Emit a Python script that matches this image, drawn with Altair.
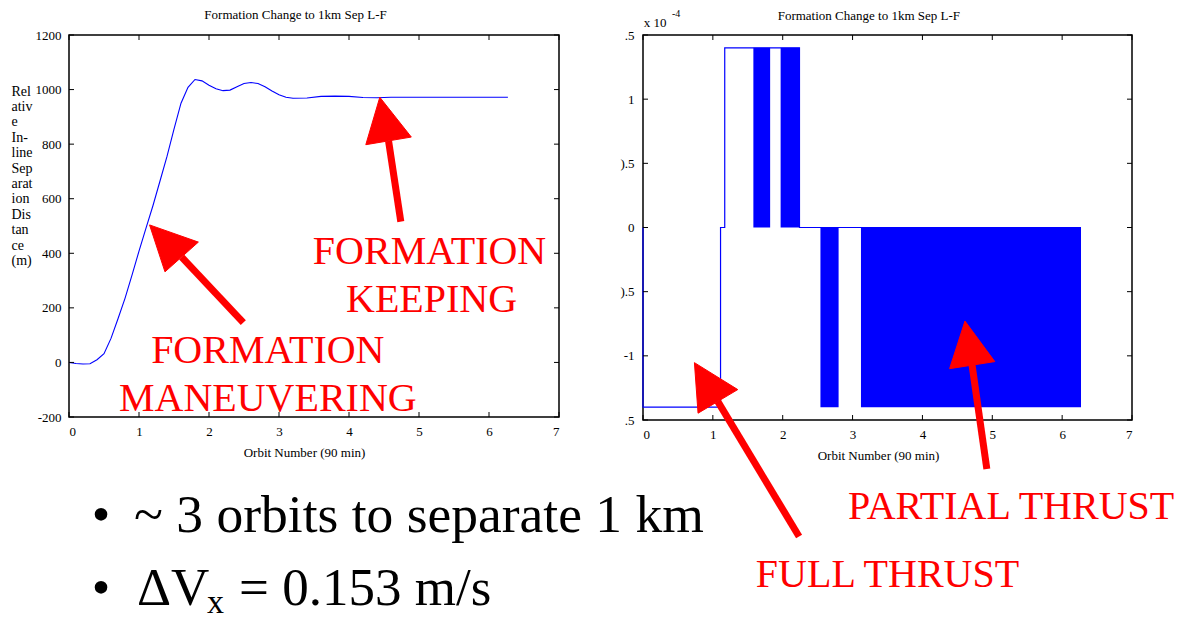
import altair as alt
import pandas as pd

FONT = "Liberation Serif"
RED = "#ff0000"
BLUE = "#0000ff"

# ---------------- text ----------------
TITLE = "Formation Change to 1km Sep L-F"
X_TITLE = "Orbit Number (90 min)"
Y_TITLE_LINES = ["Rel", "ativ", "e", "In-", "line", "Sep", "arat", "ion", "Dis", "tan", "ce", "(m)"]

# ---------------- left chart: separation ----------------
ORBIT = [0, 0.1, 0.2, 0.3, 0.4, 0.5, 0.6, 0.7, 0.8, 0.9, 1.0, 1.1, 1.2, 1.3, 1.4, 1.5,
         1.6, 1.7, 1.8, 1.9, 2.0, 2.1, 2.2, 2.3, 2.4, 2.5, 2.6, 2.7, 2.8, 2.9, 3.0, 3.1,
         3.2, 3.4, 3.6, 3.8, 4.0, 4.2, 4.4, 4.6, 5.0, 5.5, 6.0, 6.27]
SEPARATION = [0, -4, -6, -5, 10, 32, 88, 160, 235, 320, 408, 492, 575, 665, 755, 855,
              950, 1008, 1037, 1032, 1016, 1003, 996, 998, 1010, 1022, 1026, 1022, 1010, 995, 981, 972,
              968, 969, 975, 976, 975, 971, 970, 972, 972, 972, 972, 972]

X_TICKS = [0, 1, 2, 3, 4, 5, 6, 7]
LEFT_Y_TICKS = [-200, 0, 200, 400, 600, 800, 1000, 1200]

LEFT_TITLE_X, LEFT_TITLE_Y = 3.236, 1259.5

LEFT_TEXT = ["FORMATION", "MANEUVERING", "FORMATION", "KEEPING"]
LEFT_TEXT_X = [2.84, 2.84, 5.15, 5.18]
LEFT_TEXT_Y = [-3, -177, 361, 186]

LEFT_HEAD_X = [[1.151, 1.371, 1.848], [4.44, 4.24, 4.89]]
LEFT_HEAD_Y = [[504, 332, 441], [972, 798, 826]]
LEFT_SHAFT_X1 = [1.61, 4.565]
LEFT_SHAFT_Y1 = [386, 812]
LEFT_SHAFT_X2 = [2.49, 4.74]
LEFT_SHAFT_Y2 = [146, 516]

BULLET_X = [0.457, 0.457]
BULLET_Y = [-623, -890]
LINE1_TEXT = "~ 3 orbits to separate 1 km"
LINE1_X, LINE1_Y = 0.929, -623
DV_TEXT = "\u0394V"
DV_X, DV_Y = 0.971, -890
SUB_TEXT = "x"
SUB_X, SUB_Y = 1.971, -920
REST_TEXT = "= 0.153 m/s"
REST_X, REST_Y = 2.43, -890

# ---------------- right chart: thrust ----------------
THRUST_X = [0, 0, 1.11, 1.11, 1.17, 1.17, 2.24, 2.24, 6.27]
THRUST_Y = [0, -1.4, -1.4, 0, 0, 1.4, 1.4, 0, 0]

BAND_START = [1.58, 1.97, 2.54, 3.12]
BAND_END = [1.82, 2.24, 2.80, 6.27]
BAND_LOW = [0, 0, -1.4, -1.4]
BAND_HIGH = [1.4, 1.4, 0, 0]

RIGHT_Y_TICKS = [-1.5, -1, -0.5, 0, 0.5, 1, 1.5]
RIGHT_Y_LABELS = [".5", "-1", ").5", "0", ").5", "1", ".5"]

RIGHT_TITLE_X, RIGHT_TITLE_Y = 3.233, 1.615

RIGHT_TEXT = ["PARTIAL THRUST", "FULL THRUST"]
RIGHT_TEXT_X = [5.27, 3.50]
RIGHT_TEXT_Y = [-2.27, -2.80]

RIGHT_HEAD_X = [[0.736, 0.788, 1.357], [4.609, 4.389, 5.036]]
RIGHT_HEAD_Y = [[-1.053, -1.447, -1.263], [-0.729, -1.10, -1.045]]
RIGHT_SHAFT_X1 = [1.07, 4.71]
RIGHT_SHAFT_Y1 = [-1.355, -1.07]
RIGHT_SHAFT_X2 = [2.234, 4.922]
RIGHT_SHAFT_Y2 = [-2.408, -1.882]

EXP_TEXT = "x 10"
EXP_X, EXP_Y = 0.01, 1.562
POW_TEXT = "-4"
POW_X, POW_Y = 0.415, 1.64

# ---------------- layout ----------------
LW, LH = 490, 382
RW, RH = 489, 385
TICK = 5


def heads_df(hx, hy):
    rows = []
    for i, (xs, ys) in enumerate(zip(hx, hy)):
        pts = list(zip(xs, ys)) + [(xs[0], ys[0])]
        for j, (a, b) in enumerate(pts):
            rows.append({"id": i, "o": j, "x": a, "y": b})
    return pd.DataFrame(rows)


x_axis = alt.Axis(values=X_TICKS, ticks=False, tickSize=0, domain=False, grid=False,
                  labelFont=FONT, labelFontSize=13, labelPadding=8, labelColor="black",
                  title=X_TITLE, titleFont=FONT, titleFontSize=13, titleFontWeight="normal",
                  titleColor="black", titleX=235, titleY=39, titleAlign="center",
                  titleBaseline="alphabetic")

left_y_axis = alt.Axis(values=LEFT_Y_TICKS, ticks=False, tickSize=0, domain=False, grid=False,
                       labelFont=FONT, labelFontSize=13, labelPadding=8, labelColor="black",
                       labelExpr="replace(format(datum.value, 'd'), '\u2212', '-')",
                       title=Y_TITLE_LINES, titleFont=FONT, titleFontSize=14,
                       titleFontWeight="normal", titleColor="black", titleAngle=0,
                       titleAlign="left", titleBaseline="top", titleX=-58, titleY=49,
                       titleLineHeight=15.4)

expr = ""
for v, lab in zip(RIGHT_Y_TICKS, RIGHT_Y_LABELS):
    expr += f"datum.value == {v} ? '{lab}' : "
expr += "datum.label"

right_y_axis = alt.Axis(values=RIGHT_Y_TICKS, ticks=False, tickSize=0, domain=False, grid=False,
                        labelFont=FONT, labelFontSize=13, labelPadding=9, labelColor="black",
                        labelExpr=expr, title=None)


def make_enc(xs, ys, xa, ya):
    X = lambda f: alt.X(f, type="quantitative", scale=xs, axis=xa)
    Y = lambda f: alt.Y(f, type="quantitative", scale=ys, axis=ya)
    return X, Y


def tick_layers(X, Y, W, H, y_ticks):
    ticks_x = pd.DataFrame({"v": X_TICKS})
    ticks_y = pd.DataFrame({"v": y_ticks})
    return [
        alt.Chart(ticks_x).mark_rule(color="black", strokeWidth=1).encode(
            x=X("v"), y=alt.value(0), y2=alt.value(TICK)),
        alt.Chart(ticks_x).mark_rule(color="black", strokeWidth=1).encode(
            x=X("v"), y=alt.value(H), y2=alt.value(H - TICK)),
        alt.Chart(ticks_y).mark_rule(color="black", strokeWidth=1).encode(
            y=Y("v"), x=alt.value(0), x2=alt.value(TICK)),
        alt.Chart(ticks_y).mark_rule(color="black", strokeWidth=1).encode(
            y=Y("v"), x=alt.value(W), x2=alt.value(W - TICK)),
    ]


def text_layer(X, Y, texts, xs, ys, size, color, align):
    df = pd.DataFrame({"t": texts, "x": xs, "y": ys})
    return alt.Chart(df).mark_text(font=FONT, fontSize=size, color=color, align=align,
                                   baseline="alphabetic").encode(
        x=X("x"), y=Y("y"), text="t:N")


# ======== left ========
lxs = alt.Scale(domain=[0, 7], nice=False, zero=False)
lys = alt.Scale(domain=[-200, 1200], nice=False, zero=False)
LX, LY = make_enc(lxs, lys, x_axis, left_y_axis)
ltk = tick_layers(LX, LY, LW, LH, LEFT_Y_TICKS)

sep_df = pd.DataFrame({"x": ORBIT, "y": SEPARATION})
left_line = alt.Chart(sep_df).mark_line(color=BLUE, strokeWidth=1.1).encode(x=LX("x"), y=LY("y"))

lshaft = pd.DataFrame({"x": LEFT_SHAFT_X1, "y": LEFT_SHAFT_Y1, "x2": LEFT_SHAFT_X2, "y2": LEFT_SHAFT_Y2})
left_shafts = alt.Chart(lshaft).mark_rule(color=RED, strokeWidth=7).encode(
    x=LX("x"), y=LY("y"), x2="x2:Q", y2="y2:Q")
left_heads = alt.Chart(heads_df(LEFT_HEAD_X, LEFT_HEAD_Y)).mark_line(
    color=RED, fill=RED, strokeWidth=1).encode(
    x=LX("x"), y=LY("y"), detail="id:N", order="o:Q")

left_title = text_layer(LX, LY, [TITLE], [LEFT_TITLE_X], [LEFT_TITLE_Y], 13, "black", "center")
left_text = text_layer(LX, LY, LEFT_TEXT, LEFT_TEXT_X, LEFT_TEXT_Y, 40, RED, "center")
bullets = text_layer(LX, LY, ["\u2022", "\u2022"], BULLET_X, BULLET_Y, 53, "black", "center")
line1_text = text_layer(LX, LY, [LINE1_TEXT], [LINE1_X], [LINE1_Y], 53.5, "black", "left")
line2_text = text_layer(LX, LY, [DV_TEXT, REST_TEXT], [DV_X, REST_X], [DV_Y, REST_Y],
                        53, "black", "left")
sub_text = text_layer(LX, LY, [SUB_TEXT], [SUB_X], [SUB_Y], 34, "black", "left")

left = alt.layer(left_line, *ltk, left_shafts, left_heads, left_title, left_text, bullets,
                 line1_text, line2_text, sub_text).properties(width=LW, height=LH)

# ======== right ========
rxs = alt.Scale(domain=[0, 7], nice=False, zero=False)
rys = alt.Scale(domain=[-1.5, 1.5], nice=False, zero=False)
RX, RY = make_enc(rxs, rys, x_axis, right_y_axis)
rtk = tick_layers(RX, RY, RW, RH, RIGHT_Y_TICKS)

th_df = pd.DataFrame({"x": THRUST_X, "y": THRUST_Y, "o": list(range(len(THRUST_X)))})
right_line = alt.Chart(th_df).mark_line(color=BLUE, strokeWidth=1.2).encode(
    x=RX("x"), y=RY("y"), order="o:Q")
band_df = pd.DataFrame({"x": BAND_START, "x2": BAND_END, "y": BAND_LOW, "y2": BAND_HIGH})
bands = alt.Chart(band_df).mark_rect(color=BLUE).encode(
    x=RX("x"), x2="x2:Q", y=RY("y"), y2="y2:Q")

rshaft = pd.DataFrame({"x": RIGHT_SHAFT_X1, "y": RIGHT_SHAFT_Y1, "x2": RIGHT_SHAFT_X2, "y2": RIGHT_SHAFT_Y2})
right_shafts = alt.Chart(rshaft).mark_rule(color=RED, strokeWidth=7).encode(
    x=RX("x"), y=RY("y"), x2="x2:Q", y2="y2:Q")
right_heads = alt.Chart(heads_df(RIGHT_HEAD_X, RIGHT_HEAD_Y)).mark_line(
    color=RED, fill=RED, strokeWidth=1).encode(
    x=RX("x"), y=RY("y"), detail="id:N", order="o:Q")

right_title = text_layer(RX, RY, [TITLE], [RIGHT_TITLE_X], [RIGHT_TITLE_Y], 13, "black", "center")
right_text = text_layer(RX, RY, RIGHT_TEXT, RIGHT_TEXT_X, RIGHT_TEXT_Y, 40, RED, "center")
exp_text = text_layer(RX, RY, [EXP_TEXT], [EXP_X], [EXP_Y], 13, "black", "left")
pow_text = text_layer(RX, RY, [POW_TEXT], [POW_X], [POW_Y], 10, "black", "left")

right = alt.layer(bands, right_line, *rtk, right_shafts, right_heads, right_title, right_text,
                  exp_text, pow_text).properties(width=RW, height=RH)

chart = alt.hconcat(left, right, spacing=84, bounds="flush").properties(
    padding={"left": 2, "top": 0, "right": 0, "bottom": 0},
    background="white",
).configure_view(stroke="black", strokeWidth=1.5)

chart.save("out.html", embed_options={"renderer": "svg", "actions": False})
